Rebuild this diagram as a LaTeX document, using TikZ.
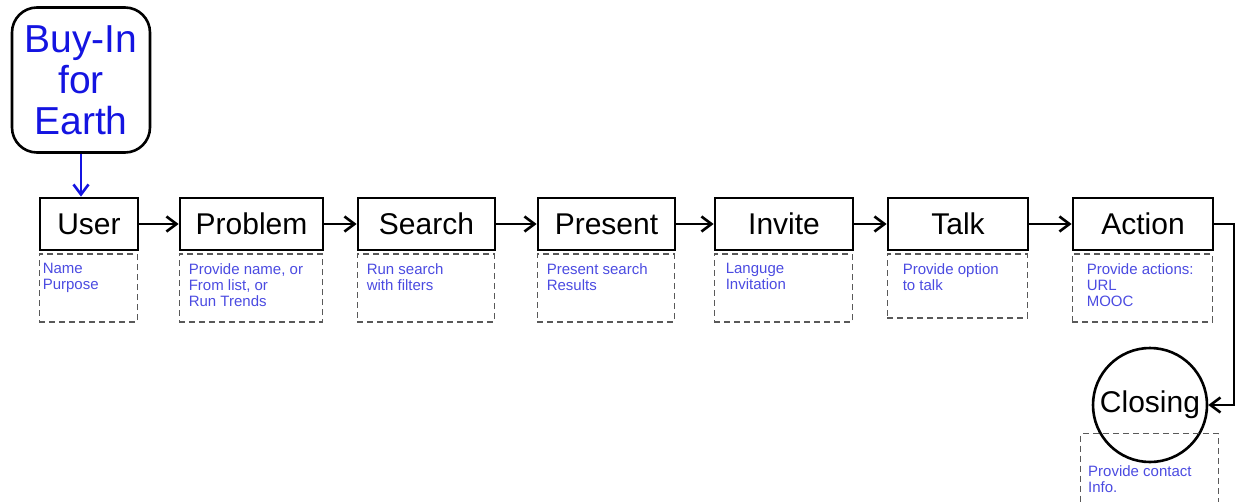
\documentclass[tikz,border=0pt]{standalone}
\usepackage{fontspec}
\setmainfont{Liberation Sans}
\usetikzlibrary{arrows.meta}

\definecolor{notecol}{RGB}{75,75,225}
\definecolor{titlecol}{RGB}{20,20,225}

\tikzset{
  stepbox/.style={draw, line width=2.8pt, rectangle, minimum height=52pt, inner sep=0pt,
    font=\fontsize{30}{32}\selectfont},
  notebox/.style={draw=black!65, dash pattern=on 6pt off 4pt, line width=1.3pt, rectangle,
    anchor=north west, inner sep=0pt, minimum height=68pt},
  notetext/.style={anchor=north west, align=left, text=notecol, inner sep=0pt,
    font=\fontsize{15}{16}\selectfont},
  flow/.style={line width=2.8pt, -{Straight Barb[length=10pt,width=15pt,line width=2.6pt]}},
}

\begin{document}
\begin{tikzpicture}[x=1pt,y=-1pt]
\useasboundingbox (0,0) rectangle (1238,501);

\node[draw, line width=2.6pt, rounded corners=25pt, minimum width=138pt, minimum height=145pt,
  align=center, inner sep=0pt, text=titlecol, font=\fontsize{39}{41}\selectfont]
  (buyin) at (81,80) {Buy-In\\for\\Earth};

% steps
\node[stepbox, minimum width=98pt]  (user)    at (89,224)    {User};
\node[stepbox, minimum width=143pt] (problem) at (251.5,224) {Problem};
\node[stepbox, minimum width=137pt] (search)  at (426.5,224) {Search};
\node[stepbox, minimum width=137pt] (present) at (606.5,224) {Present};
\node[stepbox, minimum width=138pt] (invite)  at (784,224)   {Invite};
\node[stepbox, minimum width=140pt] (talk)    at (958,224)   {Talk};
\node[stepbox, minimum width=140pt] (action)  at (1143,224)  {Action};
\node[draw, circle, line width=2.6pt, minimum size=114pt, inner sep=0pt,
  font=\fontsize{30}{32}\selectfont] (closing) at (1150,405) {Closing};

% notes
\node[notebox, minimum width=98pt]  (usernote)    at ([yshift=-2pt]user.south west) {};
\node[notebox, minimum width=143pt] (problemnote) at ([yshift=-2pt]problem.south west) {};
\node[notebox, minimum width=137pt] (searchnote)  at ([yshift=-2pt]search.south west) {};
\node[notebox, minimum width=137pt] (presentnote) at ([yshift=-2pt]present.south west) {};
\node[notebox, minimum width=138pt] (invitenote)  at ([yshift=-2pt]invite.south west) {};
\node[notebox, minimum width=140pt, minimum height=64pt] (talknote) at ([yshift=-2pt]talk.south west) {};
\node[notebox, minimum width=140pt] (actionnote)  at ([yshift=-2pt]action.south west) {};
\node[notebox, minimum width=138pt, minimum height=72pt] (closingnote) at (1080,433) {};

\node[notetext] at ([xshift=4pt,yshift=-10pt]usernote.north west) {Name\\Purpose};
\node[notetext] at ([xshift=10pt,yshift=-10pt]problemnote.north west) {Provide name, or\\From list, or\\Run Trends};
\node[notetext] at ([xshift=10pt,yshift=-10pt]searchnote.north west) {Run search\\with filters};
\node[notetext] at ([xshift=10pt,yshift=-10pt]presentnote.north west) {Present search\\Results};
\node[notetext] at ([xshift=12pt,yshift=-10pt]invitenote.north west) {Languge\\Invitation};
\node[notetext] at ([xshift=16pt,yshift=-10pt]talknote.north west) {Provide option\\to talk};
\node[notetext] at ([xshift=15pt,yshift=-10pt]actionnote.north west) {Provide actions:\\URL\\MOOC};
\node[notetext] at ([xshift=8pt,yshift=-32pt]closingnote.north west) {Provide contact\\Info.};

% connectors
\coordinate (turn) at (1234,224);
\draw[flow, draw=titlecol] (buyin.south) -- (buyin.south |- user.north);
\draw[flow] (user) -- (problem);
\draw[flow] (problem) -- (search);
\draw[flow] (search) -- (present);
\draw[flow] (present) -- (invite);
\draw[flow] (invite) -- (talk);
\draw[flow] (talk) -- (action);
\draw[flow] (action.east) -- (turn) |- (closing);
\end{tikzpicture}
\end{document}
